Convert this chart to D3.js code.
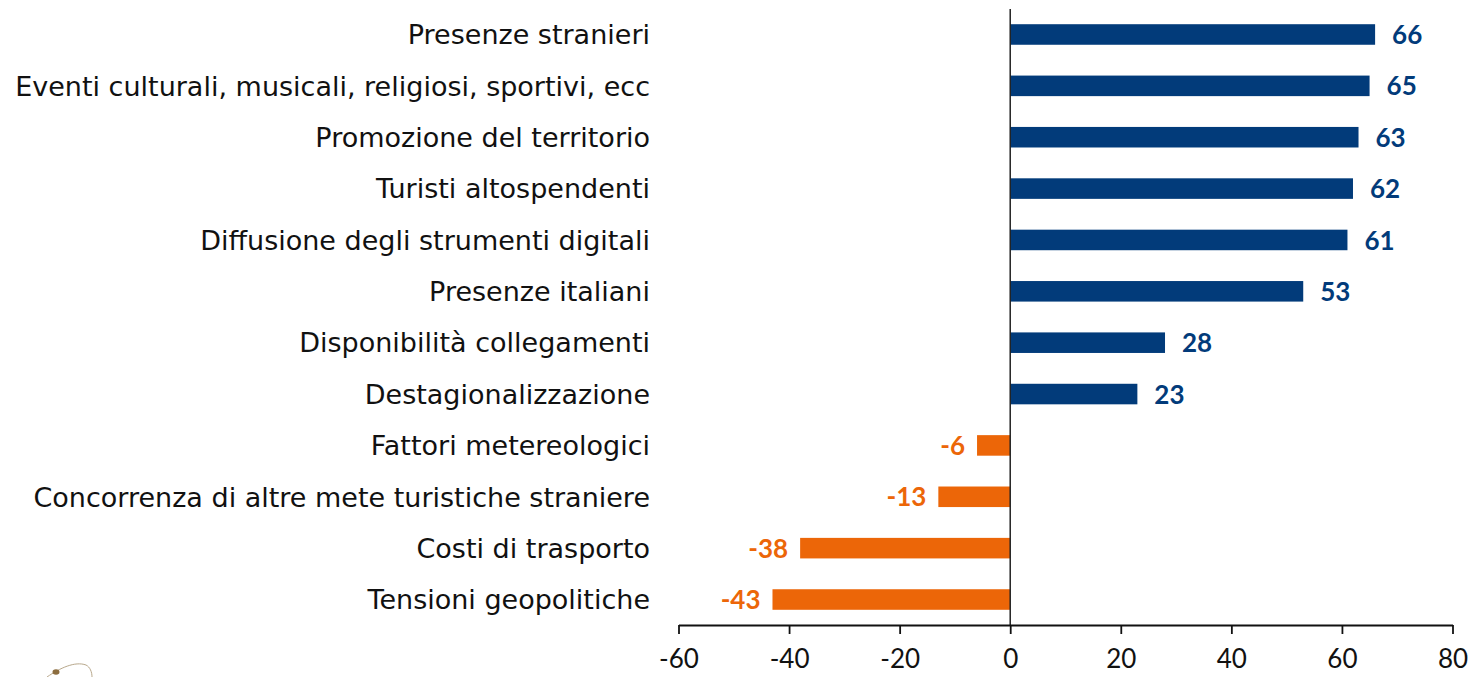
<!DOCTYPE html>
<html><head><meta charset="utf-8">
<script src="https://cdn.jsdelivr.net/npm/d3@7"></script>
<style>
html,body{margin:0;padding:0;background:#fff;}
svg{display:block;}
</style></head>
<body>
<svg id="chart" width="1471" height="677"></svg>
<script>
const categories = [
  "Presenze stranieri",
  "Eventi culturali, musicali, religiosi, sportivi, ecc",
  "Promozione del territorio",
  "Turisti altospendenti",
  "Diffusione degli strumenti digitali",
  "Presenze italiani",
  "Disponibilità collegamenti",
  "Destagionalizzazione",
  "Fattori metereologici",
  "Concorrenza di altre mete turistiche straniere",
  "Costi di trasporto",
  "Tensioni geopolitiche"
];
const values = [66, 65, 63, 62, 61, 53, 28, 23, -6, -13, -38, -43];
const tickValues = [-60, -40, -20, 0, 20, 40, 60, 80];

const W = 1471, H = 677;
const FONT = "'Century Gothic', 'DejaVu Sans', sans-serif";
const FONT2 = "'Century Gothic', Lato, 'DejaVu Sans', sans-serif";
const svg = d3.select("#chart");

const x = d3.scaleLinear().domain([-60, 80]).range([678.5, 1452.5]);
const y = d3.scaleBand().domain(categories).range([8.8, 625.2]).paddingInner(0.6).paddingOuter(0.3);
const axisY = 625;

const posColor = "#023B7A", negColor = "#EC6608";

// bars
svg.append("g").selectAll("rect").data(values).join("rect")
  .attr("x", d => x(Math.min(0, d)))
  .attr("width", d => Math.abs(x(d) - x(0)))
  .attr("y", (d, i) => y(categories[i]))
  .attr("height", y.bandwidth())
  .attr("fill", d => d >= 0 ? posColor : negColor);

// zero line
svg.append("line")
  .attr("x1", x(0)).attr("x2", x(0))
  .attr("y1", 9).attr("y2", axisY)
  .attr("stroke", "#222").attr("stroke-width", 1.5);

// category labels
const labels = svg.append("g").selectAll("text").data(categories).join("text")
  .attr("x", 650)
  .attr("y", d => y(d) + y.bandwidth() / 2)
  .attr("dy", "0.36em")
  .attr("text-anchor", "end")
  .attr("font-family", FONT)
  .attr("fill", "#111")
  .text(d => d);
let fs = 27;
labels.attr("font-size", fs);
let maxW = d3.max(labels.nodes(), n => n.getComputedTextLength());
if (maxW > 636) { fs = fs * 636 / maxW; labels.attr("font-size", fs); }

// value labels
svg.append("g").selectAll("text").data(values).join("text")
  .attr("x", d => d >= 0 ? x(d) + 17 : x(d) - 12)
  .attr("y", (d, i) => y(categories[i]) + y.bandwidth() / 2)
  .attr("dy", "0.37em")
  .attr("text-anchor", d => d >= 0 ? "start" : "end")
  .attr("font-family", FONT2)
  .attr("font-weight", "bold")
  .attr("font-size", 26)
  .attr("fill", d => d >= 0 ? posColor : negColor)
  .text(d => d);

// x axis
const ax = svg.append("g").attr("transform", `translate(0,${axisY})`)
  .call(d3.axisBottom(x).tickValues(tickValues).tickFormat(d => String(d))
    .tickSize(9).tickSizeOuter(0).tickPadding(16));
ax.select(".domain").attr("stroke", "#111").attr("stroke-width", 1.8);
ax.selectAll(".tick line").attr("stroke", "#111").attr("stroke-width", 1.8);
ax.selectAll(".tick text").attr("font-family", FONT2).attr("font-size", 26).attr("fill", "#111");

// small decorative logo fragment bottom-left
svg.append("path")
  .attr("d", "M47,677 C60,668 75,661 86,665 C90,667 92,672 92,677")
  .attr("fill", "none").attr("stroke", "#b8a88c").attr("stroke-width", 1);
svg.append("ellipse").attr("cx", 56).attr("cy", 672).attr("rx", 3.5).attr("ry", 2.8)
  .attr("fill", "#8c6d3f");
</script>
</body></html>
